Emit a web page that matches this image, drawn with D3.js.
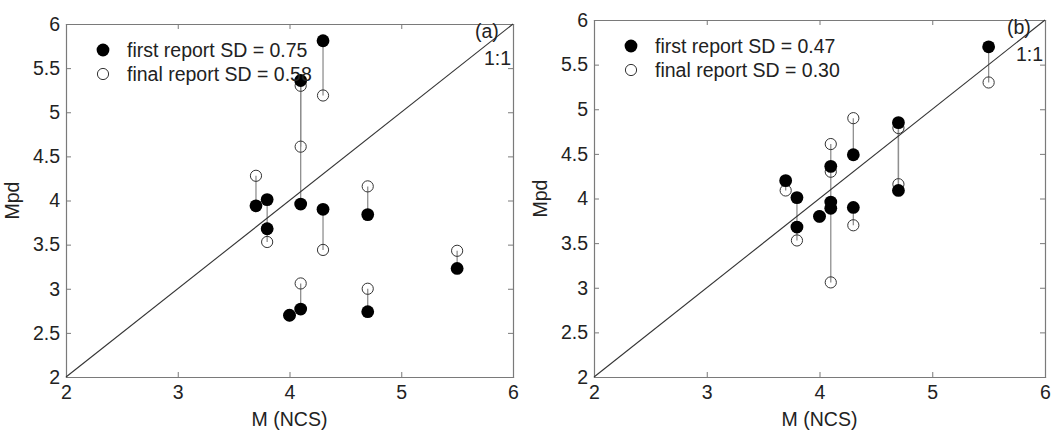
<!DOCTYPE html>
<html>
<head>
<meta charset="utf-8">
<script src="https://cdn.jsdelivr.net/npm/d3@7"></script>
<style>
  body { margin: 0; background: #fff; }
  svg text { font-family: "Liberation Sans", Arial, sans-serif; fill: #222; }
</style>
</head>
<body>
<svg id="chart" width="1058" height="431"></svg>
<script>
// each event: NCS magnitude, first reported Mpd, final reported Mpd
const magA = [4.3, 4.1, 4.1, 4.1, 3.7, 3.8, 3.8, 4.3, 4.7, 4.7, 4.0, 5.5];
const firstA = [5.81, 5.36, 3.96, 2.77, 3.94, 4.01, 3.68, 3.90, 3.84, 2.74, 2.70, 3.23];
const finalA = [5.19, 4.61, 5.30, 3.06, 4.28, 3.53, 3.68, 3.44, 4.16, 3.00, 2.70, 3.43];

const magB = [4.3, 4.1, 4.1, 4.1, 3.7, 3.8, 3.8, 4.3, 4.7, 4.7, 4.0, 5.5];
const firstB = [4.49, 4.36, 3.96, 3.89, 4.20, 4.01, 3.68, 3.90, 4.85, 4.09, 3.80, 5.70];
const finalB = [4.90, 4.61, 4.30, 3.06, 4.09, 3.53, 3.68, 3.70, 4.16, 4.79, 3.80, 5.30];

const xTicks = [2, 3, 4, 5, 6];
const yTicks = [2, 2.5, 3, 3.5, 4, 4.5, 5, 5.5, 6];
const legendA = ["first report SD = 0.75", "final report SD = 0.58"];
const legendB = ["first report SD = 0.47", "final report SD = 0.30"];

const svg = d3.select("#chart");
const fs = "19.5px";

function drawPanel(opts) {
  const { left, right, top, bottom, mags, first, final, legend, tag } = opts;
  const g = svg.append("g");
  const x = d3.scaleLinear().domain([2, 6]).range([left, right]);
  const y = d3.scaleLinear().domain([2, 6]).range([bottom, top]);

  // axes (ticks inside, MATLAB style box)
  const axStyle = (sel) => {
    sel.select(".domain").attr("stroke", "#7a7a7a").attr("stroke-width", 1.2);
    sel.selectAll(".tick line").attr("stroke", "#7a7a7a");
    sel.selectAll(".tick text").style("font-size", fs).attr("fill", "#222");
  };
  g.append("g").attr("transform", `translate(0,${bottom})`)
    .call(d3.axisBottom(x).tickValues(xTicks).tickSizeInner(-5).tickSizeOuter(0).tickPadding(8).tickFormat(d3.format("d")))
    .call(axStyle);
  g.append("g").attr("transform", `translate(0,${top})`)
    .call(d3.axisTop(x).tickValues(xTicks).tickSizeInner(-5).tickSizeOuter(0).tickFormat(""))
    .call(axStyle);
  g.append("g").attr("transform", `translate(${left},0)`)
    .call(d3.axisLeft(y).tickValues(yTicks).tickSizeInner(-5).tickSizeOuter(0).tickPadding(6).tickFormat(d3.format("")))
    .call(axStyle);
  g.append("g").attr("transform", `translate(${right},0)`)
    .call(d3.axisRight(y).tickValues(yTicks).tickSizeInner(-5).tickSizeOuter(0).tickFormat(""))
    .call(axStyle);
  g.selectAll(".domain").attr("stroke-linecap", "square");

  // axis titles
  g.append("text")
    .attr("x", (left + right) / 2).attr("y", 426)
    .attr("text-anchor", "middle").style("font-size", fs)
    .text("M (NCS)");
  g.append("text")
    .attr("transform", `translate(${left - 47},${(top + bottom) / 2}) rotate(-90)`)
    .attr("text-anchor", "middle").style("font-size", fs)
    .text("Mpd");

  const idx = d3.range(mags.length);

  // connectors between first and final reports
  g.append("g").selectAll("line").data(idx).join("line")
    .attr("x1", i => x(mags[i])).attr("x2", i => x(mags[i]))
    .attr("y1", i => y(first[i])).attr("y2", i => y(final[i]))
    .attr("stroke", "#8f8f8f").attr("stroke-width", 1.3);

  // 1:1 line
  g.append("line")
    .attr("x1", x(2)).attr("y1", y(2)).attr("x2", x(6)).attr("y2", y(6))
    .attr("stroke", "#333").attr("stroke-width", 1.1);

  g.append("g").selectAll("circle").data(idx).join("circle")
    .attr("cx", i => x(mags[i])).attr("cy", i => y(final[i])).attr("r", 5.6)
    .attr("fill", "none").attr("stroke", "#333").attr("stroke-width", 1);

  g.append("g").selectAll("circle").data(idx).join("circle")
    .attr("cx", i => x(mags[i])).attr("cy", i => y(first[i])).attr("r", 6.4)
    .attr("fill", "#000");

  // legend
  const lx = left + 37, ly = top + 26;
  g.append("circle").attr("cx", lx).attr("cy", ly).attr("r", 6.4).attr("fill", "#000");
  g.append("circle").attr("cx", lx).attr("cy", ly + 24).attr("r", 5.6)
    .attr("fill", "none").attr("stroke", "#333");
  legend.forEach((t, i) => {
    g.append("text").attr("x", lx + 24).attr("y", ly + 7 + i * 24)
      .style("font-size", fs).text(t);
  });

  g.append("text").attr("x", right - 38).attr("y", top + 14).style("font-size", fs).text(tag);
  g.append("text").attr("x", right - 29).attr("y", top + 41).style("font-size", fs).text("1:1");
}

drawPanel({ left: 66, right: 513, top: 24, bottom: 377,
  mags: magA, first: firstA, final: finalA, legend: legendA, tag: "(a)" });
drawPanel({ left: 594, right: 1045, top: 20, bottom: 377,
  mags: magB, first: firstB, final: finalB, legend: legendB, tag: "(b)" });
</script>
</body>
</html>
